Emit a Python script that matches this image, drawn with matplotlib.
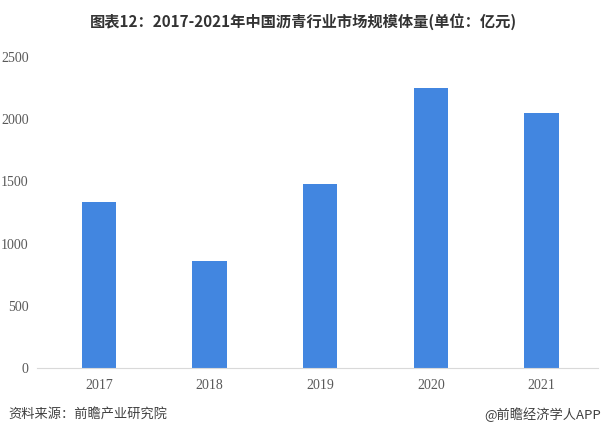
import numpy as np
import matplotlib.pyplot as plt

# Data
years = ["2017", "2018", "2019", "2020", "2021"]
market_size = [1335, 862, 1480, 2253, 2052]
y_ticks = [0, 500, 1000, 1500, 2000, 2500]

plt.rcParams['font.family'] = ['Noto Sans CJK SC', 'DejaVu Sans']

fig = plt.figure(figsize=(6.07, 4.41), dpi=100)
ax = fig.add_axes([0.061, 0.1655, 0.924, 0.7052])

x = np.arange(len(years))
ax.bar(x, market_size, width=0.31, color="#4286e0", zorder=2)

ax.set_xlim(-0.56, 4.51)
ax.set_ylim(0, 2500)
ax.set_yticks(y_ticks)
ax.set_xticks(x)
ax.set_xticklabels(years)

for lab in ax.get_xticklabels() + ax.get_yticklabels():
    lab.set_family("Liberation Serif")
    lab.set_fontsize(10)
    lab.set_color("#595959")

ax.tick_params(axis="both", length=0)
ax.tick_params(axis="x", pad=8)
ax.tick_params(axis="y", pad=6)
for side in ["top", "right", "left"]:
    ax.spines[side].set_visible(False)
ax.spines["bottom"].set_color("#d9d9d9")

# Title and footer
fig.text(0.5, 0.95, "图表12：2017-2021年中国沥青行业市场规模体量(单位：亿元)",
         ha="center", va="center", fontsize=11, fontweight="bold", color="#333333")
fig.text(0.013, 0.06, "资料来源：前瞻产业研究院", ha="left", va="center",
         fontsize=9.5, color="#404040")
fig.text(0.99, 0.06, "@前瞻经济学人APP", ha="right", va="center",
         fontsize=9.5, color="#404040")

fig.savefig("out.png", dpi=100)
